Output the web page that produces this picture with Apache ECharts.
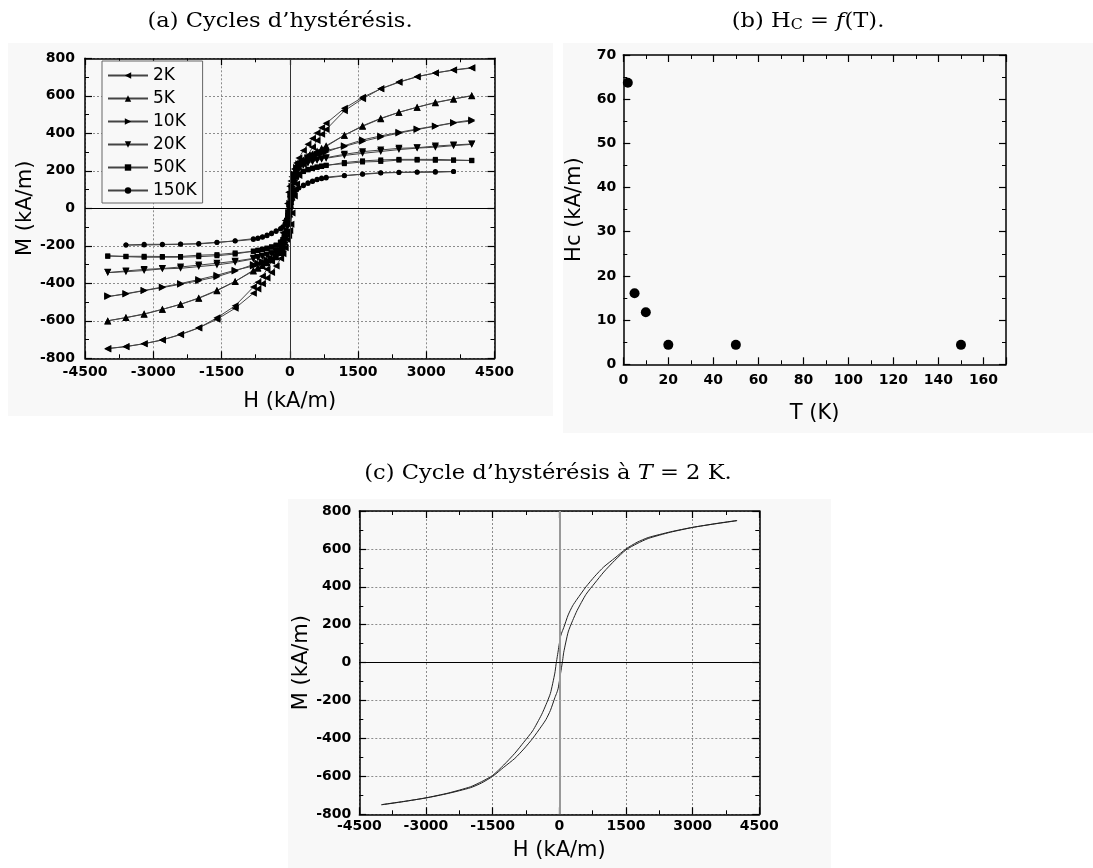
<!DOCTYPE html>
<html>
<head>
<meta charset="utf-8">
<script src="https://cdn.jsdelivr.net/npm/echarts@6/dist/echarts.min.js"></script>
<style>
html, body { margin: 0; padding: 0; background: #fff; }
#chart { width: 1093px; height: 868px; }
</style>
</head>
<body>
<div id="chart"></div>
<script>
// ---- (a) hysteresis cycles: field grid (kA/m) in the order of the descending branch
const fieldGrid = [4000, 3600, 3200, 2800, 2400, 2000, 1600, 1200, 800, 700, 600, 500, 400, 300,
    200, 150, 100, 50, 25, 0, -25, -50, -100, -150, -200,
    -300, -400, -500, -600, -700, -800, -1200, -1600, -2000, -2400, -2800, -3200, -3600, -4000];
// 150K measurement stops at +/-3600
const fieldGrid150 = [3600, 3200, 2800, 2400, 2000, 1600, 1200, 800, 700, 600, 500, 400, 300,
    200, 150, 100, 50, 25, 0, -25, -50, -100, -150, -200,
    -300, -400, -500, -600, -700, -800, -1200, -1600, -2000, -2400, -2800, -3200, -3600];

// M (kA/m) on the descending branch (down) and the ascending branch (up), same field grid
const down2K = [750, 738, 722, 702, 672, 637, 592, 533, 453, 430, 402, 372, 342, 308,
    268, 242, 210, 168, 145, 118, 85, 25, -65, -130, -175,
    -235, -283, -325, -362, -395, -420, -520, -584, -638, -674, -702, -722, -737, -748];
const up2K = [748, 737, 722, 702, 674, 638, 584, 520, 420, 395, 362, 325, 283, 235,
    175, 130, 65, -25, -85, -118, -145, -168, -210, -242, -268,
    -308, -342, -372, -402, -430, -453, -533, -592, -637, -672, -702, -722, -738, -750];

const down5K = [601, 583, 563, 539, 512, 478, 437, 390, 334, 320, 305, 290, 275, 258,
    236, 215, 180, 118, 78, 30, -15, -60, -142, -192, -222,
    -255, -272, -287, -302, -316, -330, -390, -440, -480, -512, -539, -565, -583, -600];
const up5K = [600, 583, 565, 539, 512, 480, 440, 390, 330, 316, 302, 287, 272, 255,
    222, 192, 142, 60, 15, -30, -78, -118, -180, -215, -236,
    -258, -275, -290, -305, -320, -334, -390, -437, -478, -512, -539, -563, -583, -601];

const down10K = [466, 455, 438, 420, 401, 380, 357, 330, 308, 298, 290, 281, 271, 258,
    238, 218, 183, 118, 75, 25, -22, -68, -150, -200, -228,
    -252, -265, -275, -284, -292, -300, -334, -365, -386, -405, -423, -439, -457, -471];
const up10K = [471, 457, 439, 423, 405, 386, 365, 334, 300, 292, 284, 275, 265, 252,
    228, 200, 150, 68, 22, -25, -75, -118, -183, -218, -238,
    -258, -271, -281, -290, -298, -308, -330, -357, -380, -401, -420, -438, -455, -466];

const down20K = [341, 334, 326, 321, 313, 303, 293, 282, 267, 262, 256, 250, 243, 233,
    215, 198, 165, 100, 55, 8, -45, -92, -160, -195, -212,
    -230, -242, -250, -257, -264, -270, -288, -302, -311, -320, -323, -332, -338, -343];
const up20K = [343, 338, 332, 323, 320, 311, 302, 288, 270, 264, 257, 250, 242, 230,
    212, 195, 160, 92, 45, -8, -55, -100, -165, -198, -215,
    -233, -243, -250, -256, -262, -267, -282, -293, -303, -313, -321, -326, -334, -341];

const down50K = [256, 256, 256, 257, 257, 250, 247, 238, 230, 226, 221, 215, 208, 198,
    182, 168, 140, 85, 45, 6, -38, -80, -137, -166, -180,
    -196, -205, -212, -218, -223, -228, -244, -253, -258, -261, -261, -261, -258, -254];
const up50K = [254, 258, 261, 261, 261, 258, 253, 244, 228, 223, 218, 212, 205, 196,
    180, 166, 137, 80, 38, -6, -45, -85, -140, -168, -182,
    -198, -208, -215, -221, -226, -230, -238, -247, -250, -257, -257, -256, -256, -256];

const down150K = [196, 196, 194, 191, 188, 181, 175, 166, 161, 155, 146, 136, 124,
    110, 100, 82, 48, 26, 3, -22, -45, -80, -98, -108,
    -120, -132, -143, -152, -158, -162, -173, -183, -190, -192, -192, -192, -196];
const up150K = [196, 192, 192, 192, 190, 183, 173, 162, 158, 152, 143, 132, 120,
    108, 98, 80, 45, 22, -3, -26, -48, -82, -100, -110,
    -124, -136, -146, -155, -161, -166, -175, -181, -188, -191, -194, -196, -196];

// ---- (b) coercive field vs temperature
const tempK = [2, 5, 10, 20, 50, 150];
const coercive = [63.7, 16.1, 11.8, 4.4, 4.4, 4.4];

// ---- (c) 2 K cycle, continuous line
const fieldGridC = [4000, 3500, 3000, 2500, 2000, 1750, 1500, 1250, 1000, 800, 600, 400, 300, 200,
    100, 75, 50, 25, 0, -25, -50, -75, -100,
    -200, -300, -400, -600, -800, -1000, -1250, -1500, -1750, -2000, -2500, -3000, -3500, -4000];
const downC = [749, 732, 714, 690, 660, 635, 600, 552, 505, 456, 400, 335, 300, 252,
    185, 170, 155, 135, 100, 62, 25, -12, -55,
    -162, -222, -275, -360, -420, -478, -540, -595, -628, -655, -688, -713, -733, -750];
const upC = [750, 733, 713, 688, 655, 628, 595, 540, 478, 420, 360, 275, 222, 162,
    55, 12, -25, -62, -100, -135, -155, -170, -185,
    -252, -300, -335, -400, -456, -505, -552, -600, -635, -660, -690, -714, -732, -749];

const loops = [
    { name: '2K', grid: fieldGrid, down: down2K, up: up2K, symbol: 'triangle', rotate: 90, size: 7 },
    { name: '5K', grid: fieldGrid, down: down5K, up: up5K, symbol: 'triangle', rotate: 0, size: 7 },
    { name: '10K', grid: fieldGrid, down: down10K, up: up10K, symbol: 'triangle', rotate: -90, size: 7 },
    { name: '20K', grid: fieldGrid, down: down20K, up: up20K, symbol: 'triangle', rotate: 180, size: 7 },
    { name: '50K', grid: fieldGrid, down: down50K, up: up50K, symbol: 'rect', rotate: 0, size: 5 },
    { name: '150K', grid: fieldGrid150, down: down150K, up: up150K, symbol: 'circle', rotate: 0, size: 5 }
];

// descending branch then ascending branch back to +Hmax
const loopData = function (h, down, up) {
    const pts = h.map((x, i) => [x, down[i]]);
    for (let i = h.length - 1; i >= 0; i--) pts.push([h[i], up[i]]);
    return pts;
};

const sans = 'DejaVu Sans';
const dotted = { show: true, lineStyle: { color: '#8c8c8c', width: 1, type: [2, 2] } };

const makeAxis = function (grid, pos, o) {
    const main = pos === 'bottom' || pos === 'left';
    return {
        type: 'value', gridIndex: grid, position: pos,
        min: o.min, max: o.max, interval: o.step,
        name: main ? o.name : '', nameLocation: 'middle', nameGap: o.nameGap,
        nameTextStyle: { fontFamily: sans, fontSize: 21, color: '#000' },
        axisLine: { show: true, onZero: false, lineStyle: { color: '#000', width: 1.5 } },
        axisTick: { show: true, inside: true, length: 7, lineStyle: { color: '#000', width: 1.2 } },
        minorTick: { show: true, splitNumber: 2, length: 4, lineStyle: { color: '#000', width: 1 } },
        axisLabel: {
            show: main, margin: o.margin, fontFamily: sans, fontWeight: 'bold', fontSize: 14,
            color: '#000', showMinLabel: true, showMaxLabel: o.showMax !== false,
            formatter: v => String(v)
        },
        splitLine: main && o.split ? dotted : { show: false }
    };
};

const xA = { min: -4500, max: 4500, step: 1500, name: 'H (kA/m)', nameGap: 33, margin: 7, split: true };
const yA = { min: -800, max: 800, step: 200, name: 'M (kA/m)', nameGap: 47, margin: 10, split: true };
const xB = { min: 0, max: 170, step: 20, name: 'T (K)', nameGap: 39, margin: 9, split: false, showMax: false };
const yB = { min: 0, max: 70, step: 10, name: 'Hc (kA/m)', nameGap: 38, margin: 7, split: false };
const xC = { min: -4500, max: 4500, step: 1500, name: 'H (kA/m)', nameGap: 26, margin: 5, split: true };
const yC = { min: -800, max: 800, step: 200, name: 'M (kA/m)', nameGap: 44, margin: 8, split: true };

const zeroLines = function (vColor, vWidth) {
    return {
        silent: true, symbol: ['none', 'none'], label: { show: false }, animation: false,
        data: [
            { xAxis: 0, lineStyle: { color: vColor, width: vWidth, type: 'solid' } },
            { yAxis: 0, lineStyle: { color: '#000', width: 1, type: 'solid' } }
        ]
    };
};

const series = loops.map((l, k) => ({
    name: l.name, type: 'line', xAxisIndex: 0, yAxisIndex: 0,
    data: loopData(l.grid, l.down, l.up),
    symbol: l.symbol, symbolSize: l.size, symbolRotate: l.rotate, showAllSymbol: true,
    lineStyle: { color: '#444', width: 1 },
    itemStyle: { color: '#000' },
    markLine: k === 0 ? zeroLines('#333', 1) : undefined,
    z: 3
}));

series.push({
    name: 'Hc', type: 'scatter', xAxisIndex: 2, yAxisIndex: 2,
    data: tempK.map((t, i) => [t, coercive[i]]),
    symbol: 'circle', symbolSize: 10, itemStyle: { color: '#000', opacity: 1 }
});

series.push({
    name: 'c-down', type: 'line', xAxisIndex: 4, yAxisIndex: 4,
    data: fieldGridC.map((x, i) => [x, downC[i]]),
    showSymbol: false, smooth: 0.2, lineStyle: { color: '#222', width: 1 },
    markLine: zeroLines('#999', 2)
});
series.push({
    name: 'c-up', type: 'line', xAxisIndex: 4, yAxisIndex: 4,
    data: fieldGridC.map((x, i) => [x, upC[i]]),
    showSymbol: false, smooth: 0.2, lineStyle: { color: '#222', width: 1 }
});

const serif = 'DejaVu Serif';
const titleText = function (x, y, sx, text) {
    return {
        type: 'text', x: x, y: y, scaleX: sx, z: 10,
        style: {
            text: text, fontFamily: serif, fontSize: 20, fill: '#000',
            align: 'center', verticalAlign: 'middle',
            rich: {
                sub: { fontFamily: serif, fontSize: 14, lineHeight: 14, verticalAlign: 'bottom' },
                it: { fontFamily: serif, fontSize: 20, fontStyle: 'italic' }
            }
        }
    };
};

const panel = function (x, y, w, h) {
    return { type: 'rect', z: -100, silent: true, shape: { x: x, y: y, width: w, height: h }, style: { fill: '#f8f8f8' } };
};

const option = {
    animation: false,
    backgroundColor: '#fff',
    grid: [
        { left: 85, top: 58.3, width: 409.5, height: 300 },
        { left: 623.3, top: 55, width: 382.7, height: 309.3 },
        { left: 359.3, top: 511, width: 400, height: 303.3 }
    ],
    xAxis: [
        makeAxis(0, 'bottom', xA), makeAxis(0, 'top', xA),
        makeAxis(1, 'bottom', xB), makeAxis(1, 'top', xB),
        makeAxis(2, 'bottom', xC), makeAxis(2, 'top', xC)
    ],
    yAxis: [
        makeAxis(0, 'left', yA), makeAxis(0, 'right', yA),
        makeAxis(1, 'left', yB), makeAxis(1, 'right', yB),
        makeAxis(2, 'left', yC), makeAxis(2, 'right', yC)
    ],
    legend: {
        data: loops.map(l => l.name),
        left: 102, top: 61, orient: 'vertical',
        itemWidth: 40, itemHeight: 8, itemGap: 6,
        padding: [6, 6, 4, 5],
        borderColor: '#666', borderWidth: 1, backgroundColor: '#f8f8f8',
        textStyle: { fontFamily: sans, fontSize: 17, color: '#000' },
        selectedMode: false
    },
    graphic: [
        panel(8, 43, 545, 373),
        panel(563, 43, 530, 390),
        panel(288, 499, 543, 369),
        titleText(280, 22, 1.13, '(a) Cycles d’hystérésis.'),
        titleText(808, 22, 1.13, '(b) H{sub|C} = {it|f}(T).'),
        titleText(548, 474, 1.13, '(c) Cycle d’hystérésis à {it|T} = 2 K.')
    ],
    series: series
};

const chart = echarts.init(document.getElementById('chart'));
chart.setOption(option);
</script>
</body>
</html>
